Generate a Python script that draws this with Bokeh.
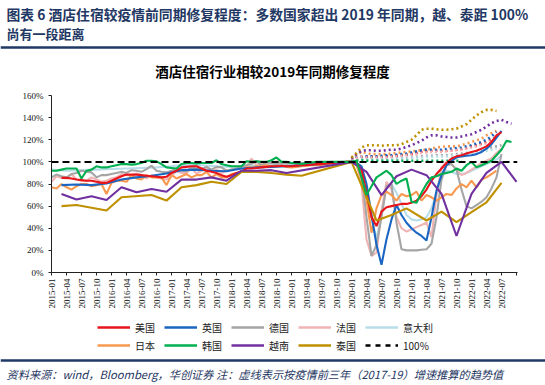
import math
from bokeh.plotting import figure
from bokeh.models import (Range1d, FixedTicker, PrintfTickFormatter, Legend, LegendItem,
                          Label, Span)
from bokeh.layouts import column
from bokeh.embed import file_html
from bokeh.resources import INLINE

# ---------------- data ----------------
header_line1 = "图表 6   酒店住宿较疫情前同期修复程度：多数国家超出 2019 年同期，越、泰距 100%"
header_line2 = "尚有一段距离"
chart_title = "酒店住宿行业相较2019年同期修复程度"
footnote = "资料来源：wind，Bloomberg，华创证券  注：虚线表示按疫情前三年（2017-19）增速推算的趋势值"

x_tick_labels = ["2015-01", "2015-04", "2015-07", "2015-10", "2016-01", "2016-04", "2016-07", "2016-10",
                 "2017-01", "2017-04", "2017-07", "2017-10", "2018-01", "2018-04", "2018-07", "2018-10",
                 "2019-01", "2019-04", "2019-07", "2019-10", "2020-01", "2020-04", "2020-07", "2020-10",
                 "2021-01", "2021-04", "2021-07", "2021-10", "2022-01", "2022-04", "2022-07"]
axis_end_month = 93.2          # months after 2015-01 where the category axis ends
y_ticks = [0, 20, 40, 60, 80, 100, 120, 140, 160]

# monthly series: first month index (0 = 2015-01) + values
us_start = 2
us_vals = [85.5, 85.5, 85, 84, 83.5, 83, 83, 82, 81, 81, 83, 85, 87, 88.5, 88.5, 88.5, 88, 87.5, 87, 86.5,
           86, 86.5, 90, 92, 95, 95.5, 96, 96, 94, 92, 91, 90, 88, 86.5, 88, 90, 91, 94, 94, 94.5,
           95, 95.5, 96, 96, 96.5, 96, 96, 96.5, 97, 97, 97.5, 98, 98, 98.5, 99, 99, 99.5, 100,
           100, 99, 93, 72, 50, 42, 55, 59, 60, 61, 62, 62, 63, 65, 69, 75, 83, 89, 94, 99,
           103, 105, 106, 107.5, 109, 110, 112, 114, 118, 124, 127]

de_start = 0
de_vals = [86, 88.5, 87, 86, 89, 90, 92, 91, 90.5, 86, 88, 88, 89, 90, 91, 90, 92.5, 92, 91, 93.5,
           96.5, 92, 91, 90.5, 92, 93.5, 92, 91.5, 95, 94, 93.5, 95.5, 93, 95.5, 95, 92, 93, 94, 96, 97,
           98, 101, 96.5, 99.5, 99, 98, 99, 98.5, 99, 98, 99, 99, 98.5, 99, 99.5, 99, 100, 99, 100, 100,
           100, 99, 90, 50, 15, 25, 50, 78, 80, 45, 21, 20, 20, 20, 20.5, 21, 26, 50, 84, 97,
           98, 93, 75, 60, 58, 61, 64, 68, 76, 86, 107]

fr_start = 0
fr_vals = [82, 87, 85.5, 85, 89, 84, 83, 83, 86, 84, 82, 83, 85, 86, 89, 88, 88, 89.5, 88, 85,
           88, 86, 85, 84, 87, 92, 90, 90, 94, 89.5, 92, 95, 91, 93, 90, 92, 93, 94, 94, 95.5,
           103, 97, 99, 100, 98.5, 100.5, 99, 98.5, 99, 98, 99, 98.5, 99.5, 99, 99, 99.5, 99, 100, 99.5, 100,
           100, 99, 80, 30, 15, 18, 55, 82, 75, 50, 40, 37, 39, 41, 43, 45, 32, 70, 95, 100,
           98, 93, 88, 90, 93, 96, 99, 101, 103, 108, 112]

jp_start = 0
jp_vals = [77, 76, 80, 77, 75, 78, 80, 80, 78, 79, 80, 71, 81, 83, 83, 82, 88, 85, 84, 88,
           86, 86, 86, 79, 88, 85, 87, 89, 86, 88, 88, 91, 86, 89, 86, 86, 89, 90, 91, 95,
           95, 96, 96, 97, 96, 96, 96.5, 95.5, 95, 95.5, 96, 96.5, 97, 97, 97.5, 98, 98.5, 99, 99.5, 100,
           100, 97, 85, 66, 36, 58, 70, 73, 70, 65, 71, 69, 70, 73, 65, 70, 68, 65, 68, 71,
           70, 76, 80, 77, 83, 77, 84, 86, 89, 92]

kr_start = 0
kr_vals = [92, 92, 93, 94, 94, 94, 85, 92, 93, 96, 95, 95, 96, 97, 98, 98, 97.5, 98, 99, 101,
           101, 100.5, 98, 95, 94.5, 94, 98, 99, 99, 98.5, 99, 99, 99, 101.5, 98, 97, 96, 96, 96, 100.5,
           100, 100.5, 100, 100, 101.5, 104, 100, 100, 99, 99, 98, 99, 99.5, 100, 100, 100, 100, 100, 100, 100,
           100, 101, 86, 70, 78, 86, 89, 92, 88, 80, 83, 85, 64, 63, 72, 80, 86, 87, 89, 90,
           91, 94, 92, 97, 100, 95, 97, 99, 101, 106, 111, 119, 118]

# sparse series: month index + values
uk_months = [2, 5, 8, 11, 14, 17, 20, 23, 26, 29, 32, 35, 38, 41, 44, 47, 50, 53, 56,
             60, 61, 62, 63, 64, 65, 66, 67, 68, 69, 70, 71, 72, 73, 74, 75, 76, 77, 78, 79,
             80, 81, 82, 83, 84, 85, 86, 87, 88, 89, 90]
uk_vals = [79, 79.5, 79, 80.5, 84, 86, 87.5, 89.5, 92.5, 93, 92, 91.5, 94, 95, 95.5, 96, 97, 98, 99,
           100, 99, 96, 80, 52, 25, 7, 30, 48, 61, 52, 45, 40, 36, 33, 29, 50, 74, 88, 97,
           101, 104, 105, 105.5, 106, 107, 109, 112, 116, 122, 128]

it_months = [0, 3, 6, 9, 12, 15, 18, 21, 24, 27, 30, 33, 36, 39, 42, 45, 48, 51, 54, 57,
             60, 61, 62, 63, 64, 65, 66, 67, 68, 69, 70, 71, 72, 73, 74, 75, 76, 77, 78, 79,
             80, 81, 82, 83, 84, 85, 86, 87, 88, 89, 90]
it_vals = [93, 92, 92.5, 93, 93.5, 94, 94.5, 95, 96, 97.5, 97, 96, 95.5, 96, 97, 97.5, 98, 98.5, 99, 99.5,
           100, 98, 90, 74, 50, 30, 55, 78, 80, 72, 62, 52, 48, 47, 48, 50, 58, 72, 88, 92,
           91, 89, 89, 90, 92, 94, 96, 98, 100, 102, 106]

vn_months = [2, 5, 8, 11, 14, 17, 20, 23, 26, 29, 32, 35, 38, 41, 44, 47, 60,
             63, 66, 69, 72, 75, 78, 81, 84, 87, 90, 93]
vn_vals = [71, 66, 69, 65.5, 77, 72.5, 75.5, 73, 84, 84, 86, 83, 92, 92, 92.5, 90, 100,
           91, 70, 87, 93, 88, 71, 33, 71, 90, 100, 82]

th_months = [2, 5, 11, 14, 20, 23, 26, 29, 32, 35, 38, 41, 44, 47, 50, 60,
             65, 68, 71, 75, 78, 81, 84, 87, 90]
th_vals = [60, 61, 56, 68, 70, 65, 77, 79, 82, 80, 91, 91, 90, 88.5, 87.5, 100,
           47, 52, 58, 47, 55, 45.5, 54.5, 63.5, 81]

# trend (dotted) series, monthly from 2020-01 (month index 60)
trend_start = 60
us_trend = [101, 103, 104, 104.5, 104.5, 104.5, 104.5, 105, 105, 105.5, 106, 106.5, 107, 108, 109,
            109.5, 110, 110, 110, 110, 110.5, 111, 111.5, 112.5, 114, 115, 116.5, 118, 120, 122]
uk_trend = [101, 104, 105, 105, 105, 105, 105.5, 106, 106, 106.5, 107, 107.5, 108.5, 109.5, 110.5,
            111, 111, 111, 111, 111.5, 112, 112.5, 113, 114, 115, 116.5, 118, 120, 123, 127]
de_trend = [100.5, 102, 103, 102.5, 102.5, 102.5, 102.5, 102.5, 103, 103, 103.5, 103.5, 104, 104.5, 105,
            105.5, 105.5, 106, 106, 106, 106.5, 107, 107.5, 108, 108.5, 109.5, 110.5, 112, 113, 114, 115]
fr_trend = [101, 103.5, 105, 104, 104, 104, 104, 104, 104.5, 105, 105.5, 106, 106.5, 107, 108,
            108.5, 109, 109, 109, 109.5, 110, 110.5, 111, 112, 113, 114, 115.5, 117, 119, 120]
it_trend = [100.5, 101.5, 102, 102, 102, 102, 102, 102, 102.5, 102.5, 103, 103, 103.5, 104, 104,
            104.5, 104.5, 105, 105, 105, 105.5, 106, 106, 106.5, 107, 108, 109, 110, 111, 112]
jp_trend = [102, 106, 109, 108, 107, 107, 107, 107, 107.5, 108, 108.5, 109, 109.5, 110, 110.5,
            111, 112, 113, 113.5, 114, 114, 114, 115, 116.5, 118, 119.5, 121, 124, 126, 128]
kr_trend = [100, 101, 101.5, 101, 101, 101, 101, 101, 101, 101, 101, 101, 101, 101, 101,
            101, 101, 101, 101, 101, 101, 101, 101]
vn_trend = [103, 107, 110, 110.5, 110.5, 110, 110, 110.5, 111, 111, 112, 113.5, 115, 117, 119,
            122, 124, 124, 123, 122.5, 122, 122, 123, 124, 125, 127, 129, 132, 135, 137, 138, 136, 134.5]
th_trend = [104, 108, 113, 115, 115, 115, 114.5, 115, 115, 115, 116, 118, 120, 124, 129,
            130, 130, 129.5, 129, 129, 129.5, 130, 132, 134, 138, 142, 145, 147, 147, 146]

ref_level = [100, 100]

# ---------------- styles ----------------
NAVY = "#1f3864"
C = {"美国": "#e8141b", "英国": "#1a66c2", "德国": "#a5a5a5", "法国": "#f0b4b4", "意大利": "#b7dde8",
     "日本": "#f8994f", "韩国": "#00b050", "越南": "#7030a0", "泰国": "#bf9000"}
CJK = "Noto Sans CJK SC"
SERIF = "Liberation Serif"
W = 545
SOLID_W = 2.1

def mrange(start, vals):
    return list(range(start, start + len(vals)))

def blank(fig):
    fig.axis.visible = False
    fig.grid.visible = False
    fig.outline_line_color = None

# ---------------- header ----------------
H1 = 88
hdr = figure(width=W, height=H1, x_range=Range1d(0, W), y_range=Range1d(0, H1),
             output_backend="svg", toolbar_location=None, min_border=0, title=None,
             frame_align=False)
blank(hdr)
hdr.add_layout(Label(x=6, y=H1 - 13, text=header_line1, text_font=CJK, text_font_style="bold",
                     text_font_size="13.8px", text_color=NAVY, text_baseline="middle"))
hdr.add_layout(Label(x=6, y=H1 - 33, text=header_line2, text_font=CJK, text_font_style="bold",
                     text_font_size="13px", text_color=NAVY, text_baseline="middle"))
hdr.add_layout(Span(location=H1 - 47, dimension="width", line_color=NAVY, line_width=2.5))
hdr.add_layout(Label(x=272, y=H1 - 70, text=chart_title, text_font=CJK, text_font_style="bold",
                     text_font_size="13.5px", text_color="#000000", text_baseline="middle",
                     text_align="center"))

# ---------------- main chart ----------------
H2 = 230
p = figure(width=W, height=H2, x_range=Range1d(0, axis_end_month), y_range=Range1d(0, 160),
           output_backend="svg", toolbar_location=None, title=None, frame_align=False,
           min_border_left=51, min_border_right=28, min_border_top=7, min_border_bottom=46)
p.grid.visible = False
p.outline_line_color = None

for vals, key in [(jp_trend, "日本"), (us_trend, "美国"), (uk_trend, "英国"), (de_trend, "德国"),
                  (fr_trend, "法国"), (it_trend, "意大利"), (kr_trend, "韩国"),
                  (vn_trend, "越南"), (th_trend, "泰国")]:
    p.line(mrange(trend_start, vals), vals, line_color=C[key], line_width=2.6, line_dash="2 3")

series = [
    ("美国", mrange(us_start, us_vals), us_vals),
    ("英国", uk_months, uk_vals),
    ("德国", mrange(de_start, de_vals), de_vals),
    ("法国", mrange(fr_start, fr_vals), fr_vals),
    ("意大利", it_months, it_vals),
    ("日本", mrange(jp_start, jp_vals), jp_vals),
    ("韩国", mrange(kr_start, kr_vals), kr_vals),
    ("越南", vn_months, vn_vals),
    ("泰国", th_months, th_vals),
]
lookup = {s[0]: s for s in series}
for name in ["意大利", "法国", "德国", "日本", "英国", "美国", "泰国", "越南", "韩国"]:
    _, xs, ys = lookup[name]
    p.line(xs, ys, line_color=C[name], line_width=SOLID_W)

ref_x = [0, axis_end_month]
p.line(ref_x, ref_level, line_color="#000000", line_width=2, line_dash="7 4")

p.yaxis.ticker = FixedTicker(ticks=y_ticks)
p.yaxis.formatter = PrintfTickFormatter(format="%d%%")
p.xaxis.ticker = FixedTicker(ticks=[3 * i for i in range(len(x_tick_labels) + 1)])
overrides = {3 * i: lab for i, lab in enumerate(x_tick_labels)}
overrides[3 * len(x_tick_labels)] = ""
p.xaxis.major_label_overrides = overrides
p.xaxis.major_label_orientation = math.pi / 2
for ax in (p.xaxis, p.yaxis):
    ax.axis_line_color = "#222222"
    ax.axis_line_width = 1
    ax.major_tick_line_color = "#222222"
    ax.major_tick_out = 3
    ax.major_tick_in = 0
    ax.minor_tick_line_color = None
    ax.major_label_text_font = SERIF
    ax.major_label_text_font_size = "9px"
    ax.major_label_text_color = "#111111"
p.xaxis.major_label_standoff = 3
p.yaxis.major_label_standoff = 5

# ---------------- legend + footer ----------------
H3 = 385 - H1 - H2
ftr = figure(width=W, height=H3, x_range=Range1d(0, W), y_range=Range1d(0, H3),
             output_backend="svg", toolbar_location=None, min_border=0, title=None,
             frame_align=False)
blank(ftr)
items = []
for name, xs, ys in series:
    # legend proxy of the series (same data, hidden: it only provides the legend swatch)
    r = ftr.line(xs, ys, line_color=C[name], line_width=2.6, visible=False)
    items.append(LegendItem(label=name, renderers=[r]))
r_ref = ftr.line(ref_x, ref_level, line_color="#000000", line_width=2.4, line_dash="5 5",
                 visible=False)
items.append(LegendItem(label="100%", renderers=[r_ref]))
legend = Legend(items=items, location=(97, H3 - 36), orientation="horizontal", ncols=5,
                glyph_width=33, glyph_height=18, label_height=18, label_width=29, label_standoff=5,
                spacing=0, padding=0, margin=0, border_line_color=None, background_fill_alpha=0,
                label_text_font=CJK, label_text_font_size="10px", label_text_color="#222222")
ftr.add_layout(legend, "center")
ftr.add_layout(Span(location=H3 - 42, dimension="width", line_color=NAVY, line_width=2.5))
ftr.add_layout(Label(x=6, y=H3 - 55, text=footnote, text_font=CJK, text_font_style="italic",
                     text_font_size="11.2px", text_color=NAVY, text_baseline="middle"))

layout = column(hdr, p, ftr, spacing=0)
open("out.html", "w").write(file_html(layout, INLINE))
